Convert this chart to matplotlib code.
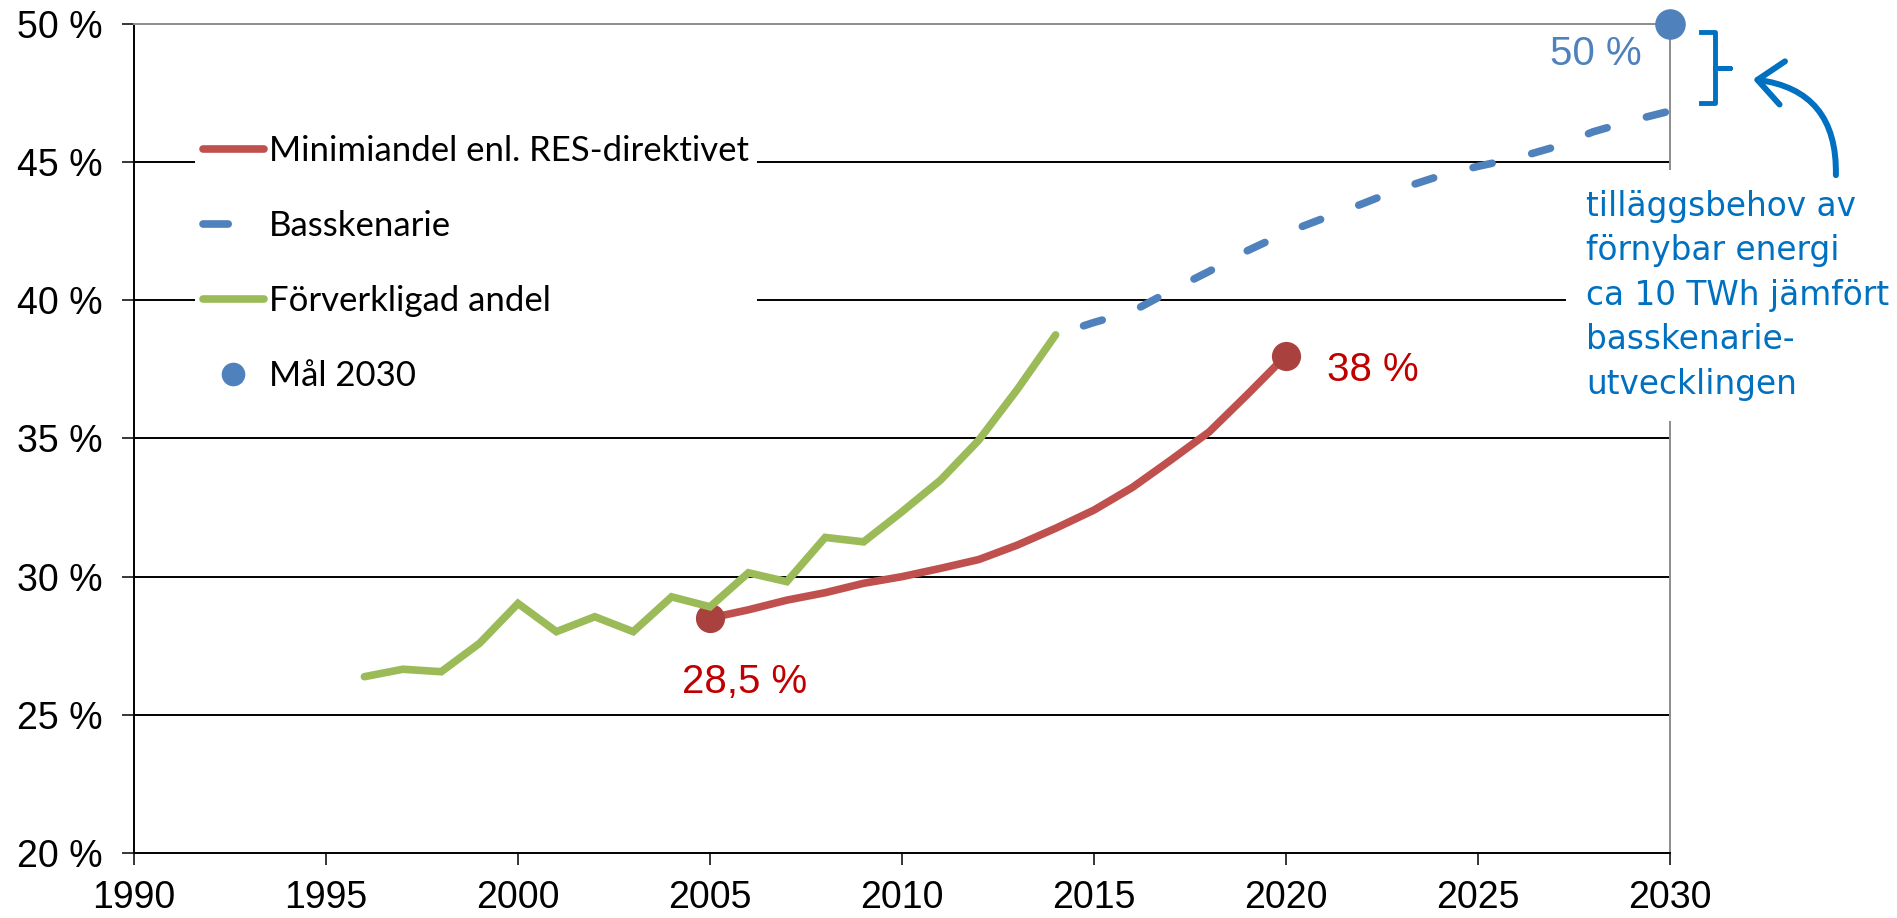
import matplotlib
matplotlib.use("Agg")
import matplotlib.pyplot as plt
from matplotlib.lines import Line2D
from matplotlib.patches import FancyArrowPatch

# values (percent share)
years_actual = list(range(1996, 2015))
share_actual = [26.38, 26.65, 26.56, 27.59, 29.03, 28.01, 28.55, 28.01, 29.27, 28.91,
                30.14, 29.82, 31.42, 31.26, 32.35, 33.49, 34.94, 36.77, 38.75]

years_res = list(range(2005, 2021))
share_res = [28.5, 28.8, 29.15, 29.42, 29.76, 30.0, 30.3, 30.62, 31.14, 31.75,
             32.41, 33.23, 34.22, 35.24, 36.6, 38.0]

years_base = list(range(2014, 2031))
share_base = [38.75, 39.2, 39.6, 40.35, 41.05, 41.8, 42.45, 42.98, 43.5, 44.05,
              44.5, 44.85, 45.15, 45.55, 46.1, 46.5, 46.85]

goal_year = 2030
goal_share = 50

x_ticks = [1990, 1995, 2000, 2005, 2010, 2015, 2020, 2025, 2030]
y_ticks = [20, 25, 30, 35, 40, 45, 50]
legend_labels = ["Minimiandel enl. RES-direktivet", "Basskenarie",
                 "Förverkligad andel", "Mål 2030"]
note_lines = ["tilläggsbehov av", "förnybar energi", "ca 10 TWh jämfört",
              "basskenarie-", "utvecklingen"]

RED = "#C0504D"
RED_DOT = "#A9423F"
GREEN = "#9BBB59"
BLUE = "#4F81BD"
NOTE = "#0070C0"
LABEL_RED = "#C00000"
LW = 5.5

plt.rcParams["font.family"] = ["Liberation Sans", "DejaVu Sans"]

W, H = 1897, 918
fig = plt.figure(figsize=(W / 100, H / 100), dpi=100)
ax = fig.add_axes([134 / W, 65 / H, 1536 / W, 829 / H])
ax.set_xlim(1990, 2030)
ax.set_ylim(20, 50)

for y in y_ticks[1:-1]:
    ax.axhline(y, color="black", lw=1.4, zorder=1)

ax.plot(years_res, share_res, color=RED, lw=LW, solid_capstyle="round", zorder=3)
ax.plot([years_res[0], years_res[-1]], [share_res[0], share_res[-1]], "o",
        ms=20, color=RED_DOT, zorder=4)
ax.plot(years_actual, share_actual, color=GREEN, lw=LW, solid_capstyle="round",
        solid_joinstyle="miter", zorder=5)
ax.plot(years_base, share_base, color=BLUE, lw=LW, linestyle=(4.04, (2.55, 5.34)),
        dash_capstyle="round", zorder=3)
ax.plot([goal_year], [goal_share], "o", ms=21, color=BLUE, clip_on=False, zorder=7)

for side in ["left", "bottom"]:
    ax.spines[side].set_color("black")
    ax.spines[side].set_linewidth(1.4)
for side in ["top", "right"]:
    ax.spines[side].set_color("#8C8C8C")
    ax.spines[side].set_linewidth(1.4)

ax.set_xticks(x_ticks)
ax.set_yticks(y_ticks)
ax.set_yticklabels([f"{v} %" for v in y_ticks])
ax.tick_params(axis="both", direction="out", length=8.3, width=1.1,
               labelsize=27, colors="black")
ax.tick_params(axis="x", pad=11.5)
ax.tick_params(axis="y", pad=14)

handles = [
    Line2D([], [], color=RED, lw=LW, solid_capstyle="round"),
    Line2D([], [], color=BLUE, lw=LW, linestyle=(0, (3.3, 20)), dash_capstyle="round"),
    Line2D([], [], color=GREEN, lw=LW, solid_capstyle="round"),
    Line2D([], [], ls="none", marker="o", ms=16, color=BLUE),
]
ax.legend(handles, legend_labels, loc="upper left",
          bbox_to_anchor=(195 / W, 1 - 127 / H), bbox_transform=fig.transFigure,
          prop={"family": "Lato", "size": 25}, handlelength=1.75, handletextpad=0.15,
          labelspacing=1.24, borderpad=0.23, borderaxespad=0, frameon=True,
          fancybox=False, facecolor="white", edgecolor="none", framealpha=1)

# point labels
ax.annotate("28,5 %", (years_res[0], share_res[0]), xytext=(35, -75),
            textcoords="offset pixels", ha="center", va="baseline",
            fontsize=29, color=LABEL_RED, zorder=6)
ax.annotate("38 %", (years_res[-1], share_res[-1]), xytext=(41, -25),
            textcoords="offset pixels", ha="left", va="baseline",
            fontsize=29, color=LABEL_RED, zorder=6)
ax.annotate("50 %", (goal_year, goal_share), xytext=(-28, -41),
            textcoords="offset pixels", ha="right", va="baseline",
            fontsize=29, color=BLUE, zorder=6)

# note with bracket and arrow (anchored on the baseline of its last line)
note_ls = 1.2
note = ax.text(2027.81, 36.61, "\n".join(note_lines), color=NOTE, fontsize=24,
               family="DejaVu Sans", ha="left", va="baseline", zorder=6,
               linespacing=note_ls,
               bbox=dict(boxstyle="square,pad=0.6", fc="white", ec="none"))

# size the note so its widest line spans ~304 px and lines sit ~45 px apart
fig.canvas.draw()
renderer = fig.canvas.get_renderer()
width = note.get_window_extent(renderer).width
note.set_fontsize(note.get_fontsize() * 304 / width)
for _ in range(2):
    full_h = note.get_window_extent(renderer).height
    note.set_text(note_lines[0])
    one_h = note.get_window_extent(renderer).height
    note.set_text("\n".join(note_lines))
    pitch = (full_h - one_h) / (len(note_lines) - 1)
    note_ls = note_ls * 44.8 / pitch
    note.set_linespacing(note_ls)

ax.plot([2030.81, 2031.17, 2031.17, 2031.56, 2031.17, 2031.17, 2030.81],
        [49.70, 49.70, 48.40, 48.40, 48.40, 47.13, 47.13],
        color=NOTE, lw=3.5, clip_on=False, solid_joinstyle="round", zorder=6)
arrow = FancyArrowPatch(posA=(2034.32, 44.53), posB=(2032.16, 48.0),
                        connectionstyle="arc3,rad=0.45",
                        arrowstyle="->,head_length=1.0,head_width=0.87",
                        mutation_scale=18, lw=4.3, color=NOTE, shrinkA=0, shrinkB=0,
                        capstyle="round", joinstyle="round", clip_on=False, zorder=6)
ax.add_patch(arrow)

fig.savefig("out.png", dpi=100)
